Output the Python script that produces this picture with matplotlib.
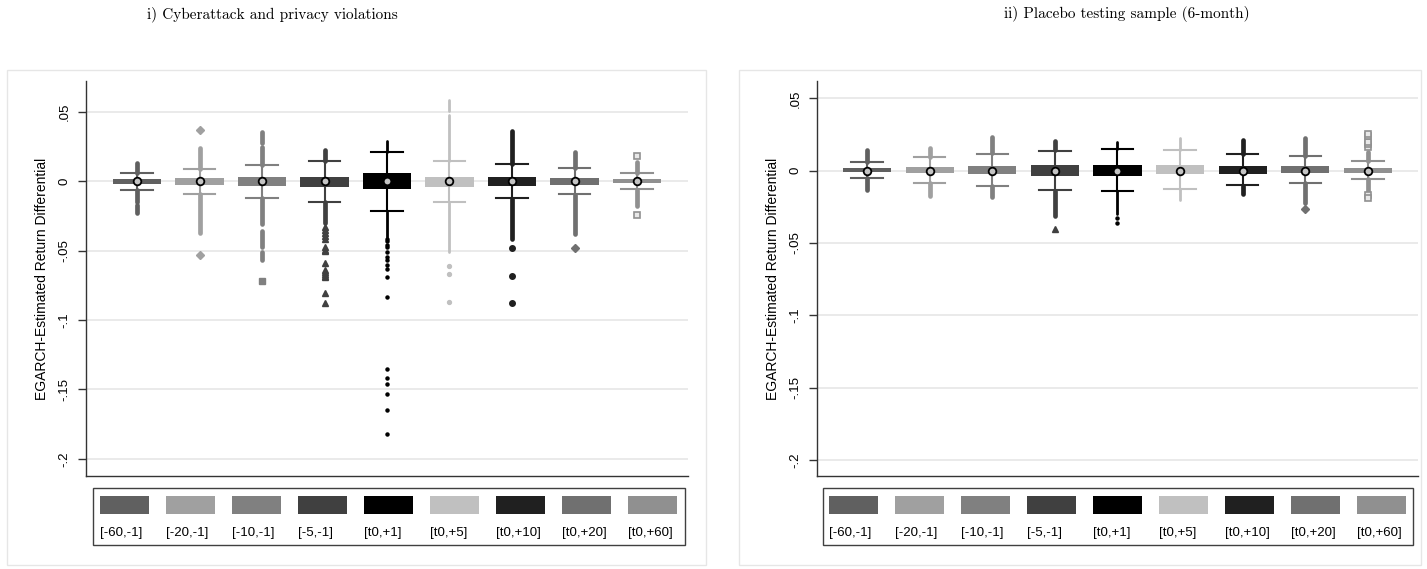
import matplotlib
matplotlib.use("Agg")
import matplotlib.pyplot as plt
from matplotlib.patches import Rectangle

W, H = 1427, 569

windows = ["[-60,-1]", "[-20,-1]", "[-10,-1]", "[-5,-1]", "[t0,+1]",
           "[t0,+5]", "[t0,+10]", "[t0,+20]", "[t0,+60]"]
shades = ['#606060', '#a0a0a0', '#808080', '#404040', '#000000',
          '#c0c0c0', '#202020', '#707070', '#909090']
markers = ['o', 'D', 's', '^', '.', 'o', 'o', 'D', 's']

yticks = [0.05, 0, -0.05, -0.1, -0.15, -0.2]
ytick_labels = [".05", "0", "-.05", "-.1", "-.15", "-.2"]

# ---- panel i) cyberattack and privacy violations
cy_med = [0.0, 0.0, 0.0, 0.0, 0.0, 0.0, 0.0, 0.0, 0.0]
cy_q1 = [-0.0022, -0.0024, -0.0031, -0.0043, -0.0058, -0.0043, -0.0031, -0.0024, -0.0014]
cy_q3 = [0.0014, 0.0024, 0.0034, 0.0034, 0.0058, 0.0034, 0.0034, 0.0027, 0.0014]
cy_lo = [-0.0060, -0.0091, -0.0117, -0.0146, -0.0216, -0.0151, -0.0122, -0.0094, -0.0058]
cy_hi = [0.0058, 0.0091, 0.0118, 0.0147, 0.0211, 0.0147, 0.0122, 0.0094, 0.0058]
# dense stretches of outliers (from, to)
cy_runs = [
    [(0.0062, 0.0135), (-0.0062, -0.0150), (-0.0170, -0.0225)],
    [(0.0093, 0.0240), (-0.0093, -0.0370)],
    [(0.0120, 0.0250), (0.0280, 0.0355), (-0.0120, -0.0307), (-0.0355, -0.0475), (-0.0510, -0.0565)],
    [(0.0150, 0.0225), (-0.0150, -0.0300)],
    [(0.0215, 0.0290), (-0.0220, -0.0400)],
    [(0.0150, 0.0480), (0.0510, 0.0590), (-0.0155, -0.0510)],
    [(0.0125, 0.0365), (-0.0125, -0.0415)],
    [(0.0097, 0.0215), (-0.0097, -0.0378)],
    [(0.0060, 0.0137), (-0.0060, -0.0175)],
]
# isolated outliers
cy_points = [
    [],
    [0.0370, -0.0530],
    [-0.0715],
    [-0.0330, -0.0350, -0.0370, -0.0390, -0.0415, -0.0475, -0.0495, -0.0505, -0.0585,
     -0.0640, -0.0655, -0.0668, -0.0680, -0.0690, -0.0805, -0.0880],
    [-0.0415, -0.0432, -0.0455, -0.0475, -0.0511, -0.0547, -0.0570, -0.0606, -0.0630,
     -0.0686, -0.0834, -0.1350, -0.1417, -0.1458, -0.1530, -0.1650, -0.1820],
    [-0.0607, -0.0670, -0.0866],
    [-0.0477, -0.0680, -0.0878],
    [-0.0477],
    [0.0183, -0.0240],
]

# ---- panel ii) placebo testing sample (6-month)
pl_med = [0.0, 0.0, 0.0, 0.0, 0.0, 0.0, 0.0, 0.0, 0.0]
pl_q1 = [-0.0009, -0.0018, -0.0021, -0.0035, -0.0035, -0.0025, -0.0021, -0.0018, -0.0014]
pl_q3 = [0.0021, 0.0028, 0.0032, 0.0039, 0.0039, 0.0039, 0.0032, 0.0032, 0.0019]
pl_lo = [-0.0048, -0.0083, -0.0104, -0.0136, -0.0140, -0.0127, -0.0101, -0.0083, -0.0057]
pl_hi = [0.0058, 0.0095, 0.0118, 0.0138, 0.0148, 0.0141, 0.0113, 0.0102, 0.0067]
pl_runs = [
    [(0.0060, 0.0145), (-0.0050, -0.0135)],
    [(0.0097, 0.0160), (-0.0085, -0.0175)],
    [(0.0120, 0.0235), (-0.0106, -0.0185)],
    [(0.0140, 0.0205), (-0.0138, -0.0310)],
    [(0.0150, 0.0195), (-0.0142, -0.0300)],
    [(0.0143, 0.0225), (-0.0129, -0.0205)],
    [(0.0115, 0.0210), (-0.0103, -0.0160)],
    [(0.0104, 0.0225), (-0.0085, -0.0225)],
    [(0.0069, 0.0131), (-0.0059, -0.0145)],
]
pl_points = [
    [], [], [],
    [-0.0405],
    [-0.0330, -0.0360],
    [],
    [],
    [-0.0265],
    [0.0165, 0.0183, 0.0200, 0.0240, 0.0255, -0.0165, -0.0187],
]

plt.rcParams['font.family'] = ['Liberation Sans', 'DejaVu Sans']


def draw_panel(ax, med, q1, q3, lo, hi, runs, points, ylim, xlim):
    pos = list(range(1, len(windows) + 1))
    for i in range(len(windows)):
        c = shades[i]
        st = dict(med=med[i], q1=q1[i], q3=q3[i], whislo=lo[i], whishi=hi[i], fliers=[])
        ax.bxp([st], positions=[pos[i]], widths=0.77, capwidths=0.5,
               patch_artist=True, showfliers=False,
               boxprops=dict(facecolor=c, edgecolor=c, linewidth=0),
               whiskerprops=dict(color=c, linewidth=1.5),
               capprops=dict(color=c, linewidth=1.5),
               medianprops=dict(color=c, linewidth=0))
        # outlier stretches
        lw = 3.4
        if markers[i] == '.':
            lw = 2.0
        elif i == 5:
            lw = 2.0
        for a, b in runs[i]:
            lc = ax.vlines(pos[i], a, b, color=c, linewidth=lw, zorder=1)
            lc.set_capstyle('round')
        pts = points[i]
        if pts:
            if i == 8:
                ax.plot([pos[i]] * len(pts), pts, 's', ms=4, mfc='#e8e8e8', mec=c, mew=1.2, zorder=1)
            elif markers[i] == '.':
                ax.plot([pos[i]] * len(pts), pts, 'o', ms=2.2, color=c, zorder=1)
            elif i == 5:
                ax.plot([pos[i]] * len(pts), pts, 'o', ms=2.8, color=c, zorder=1)
            else:
                ms = 5 if markers[i] == '^' else 4
                ax.plot([pos[i]] * len(pts), pts, markers[i], ms=ms, color=c, zorder=1)
    ax.plot(pos, med, 'o', ms=5.5, mfc='#c4c4c4', mec='black', mew=1.3, ls='none', zorder=5)

    ax.set_xlim(*xlim)
    ax.set_ylim(*ylim)
    ax.set_xticks([])
    ax.set_yticks(yticks)
    ax.set_yticklabels(ytick_labels, rotation=90, va='center', fontsize=9.5)
    ax.tick_params(axis='y', length=6, width=1, color='#333333', pad=5)
    ax.grid(axis='y', color='#e6e6e6', linewidth=1.2)
    ax.set_axisbelow(True)
    ax.patch.set_alpha(0)
    for s in ['top', 'right']:
        ax.spines[s].set_visible(False)
    for s in ['left', 'bottom']:
        ax.spines[s].set_color('#333333')
        ax.spines[s].set_linewidth(1)
    ax.set_ylabel("EGARCH-Estimated Return Differential", fontsize=10)


def fig_rect(x0, y0, x1, y1):
    return [x0 / W, 1 - y1 / H, (x1 - x0) / W, (y1 - y0) / H]


fig = plt.figure(figsize=(W / 100, H / 100), dpi=100)

# outer light frames
for x0, x1 in [(7, 706), (739, 1421)]:
    fig.patches.append(Rectangle((x0 / W, 1 - 565 / H), (x1 - x0) / W, (565 - 70) / H,
                                 transform=fig.transFigure, facecolor='none',
                                 edgecolor='#e6e6e6', linewidth=1, zorder=-1))

ax1 = fig.add_axes(fig_rect(86, 81, 688, 476))
draw_panel(ax1, cy_med, cy_q1, cy_q3, cy_lo, cy_hi, cy_runs, cy_points,
           (-0.2124, 0.0724), (0.184, 9.816))
ax1.yaxis.set_label_coords(-0.061, 0.5)

ax2 = fig.add_axes(fig_rect(817, 81, 1418, 476))
draw_panel(ax2, pl_med, pl_q1, pl_q3, pl_lo, pl_hi, pl_runs, pl_points,
           (-0.2111, 0.0620), (0.201, 9.80))
ax2.yaxis.set_label_coords(-0.062, 0.5)

# legends (Stata style: swatch with label underneath)
for bx0, bx1, sx0 in [(93, 685, 100), (823, 1413, 829)]:
    fig.patches.append(Rectangle((bx0 / W, 1 - 545 / H), (bx1 - bx0) / W, (545 - 488) / H,
                                 transform=fig.transFigure, facecolor='none',
                                 edgecolor='#404040', linewidth=1, zorder=2))
    for k, lab in enumerate(windows):
        x = sx0 + 66 * k
        fig.patches.append(Rectangle((x / W, 1 - 514 / H), 49 / W, 18 / H,
                                     transform=fig.transFigure, facecolor=shades[k],
                                     edgecolor='none', zorder=3))
        fig.text(x / W, 1 - 533 / H, lab, ha='left', va='center', fontsize=9.5)

fig.text(272 / W, 1 - 14 / H, "i) Cyberattack and privacy violations",
         ha='center', va='center', fontsize=11, family=['cmr10', 'DejaVu Serif'])
fig.text(1127 / W, 1 - 14 / H, "ii) Placebo testing sample (6-month)",
         ha='center', va='center', fontsize=11, family=['cmr10', 'DejaVu Serif'])

fig.savefig("out.png", dpi=100)
